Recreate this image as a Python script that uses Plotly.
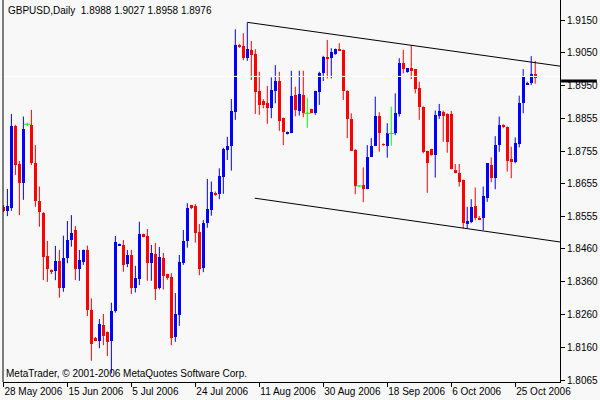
import plotly.graph_objects as go

# GBPUSD daily bars, 28 May 2006 .. 27 Oct 2006
opens = [1.8587, 1.8574, 1.8584, 1.8831, 1.8716, 1.8660, 1.8836, 1.8834, 1.8720, 1.8604,
         1.8569, 1.8439, 1.8397, 1.8394, 1.8424, 1.8342, 1.8432, 1.8487, 1.8517, 1.8400,
         1.8422, 1.8457, 1.8276, 1.8192, 1.8183, 1.8231, 1.8210, 1.8183, 1.8273, 1.8470,
         1.8472, 1.8414, 1.8442, 1.8342, 1.8369, 1.8504, 1.8499, 1.8419, 1.8445, 1.8342,
         1.8433, 1.8384, 1.8375, 1.8196, 1.8261, 1.8419, 1.8484, 1.8592, 1.8589, 1.8511,
         1.8403, 1.8539, 1.8577, 1.8629, 1.8627, 1.8678, 1.8758, 1.8770, 1.8874, 1.9075,
         1.9072, 1.9036, 1.9060, 1.9048, 1.8936, 1.8906, 1.8900, 1.8884, 1.8937, 1.8966,
         1.8855, 1.8806, 1.8810, 1.8924, 1.8877, 1.8924, 1.8869, 1.8882, 1.8871, 1.8934,
         1.8991, 1.9039, 1.9036, 1.9047, 1.9063, 1.9060, 1.8937, 1.8852, 1.8758, 1.8650,
         1.8653, 1.8641, 1.8738, 1.8771, 1.8862, 1.8776, 1.8771, 1.8808, 1.8810, 1.8867,
         1.9021, 1.8992, 1.9004, 1.9001, 1.8944, 1.8889, 1.8755, 1.8761, 1.8743, 1.8861,
         1.8874, 1.8868, 1.8868, 1.8698, 1.8690, 1.8668, 1.8536, 1.8541, 1.8589, 1.8554,
         1.8552, 1.8614, 1.8713, 1.8673, 1.8773, 1.8831, 1.8828, 1.8730, 1.8723, 1.8776,
         1.8899, 1.8954, 1.8959, 1.8988]
highs = [1.8592, 1.8641, 1.8867, 1.8834, 1.8725, 1.8859, 1.8840, 1.8879, 1.8773, 1.8648,
         1.8571, 1.8484, 1.8398, 1.8469, 1.8457, 1.8500, 1.8544, 1.8562, 1.8529, 1.8457,
         1.8458, 1.8470, 1.8311, 1.8195, 1.8249, 1.8264, 1.8211, 1.8298, 1.8499, 1.8476,
         1.8487, 1.8457, 1.8457, 1.8409, 1.8542, 1.8506, 1.8520, 1.8472, 1.8478, 1.8466,
         1.8448, 1.8385, 1.8387, 1.8327, 1.8442, 1.8517, 1.8598, 1.8593, 1.8595, 1.8535,
         1.8547, 1.8671, 1.8663, 1.8633, 1.8703, 1.8765, 1.8798, 1.8912, 1.9122, 1.9078,
         1.9110, 1.9142, 1.9087, 1.9062, 1.8994, 1.8911, 1.8951, 1.8977, 1.9014, 1.8994,
         1.8856, 1.8814, 1.8997, 1.8949, 1.8997, 1.8997, 1.8916, 1.8883, 1.8937, 1.8994,
         1.9042, 1.9090, 1.9065, 1.9064, 1.9080, 1.9061, 1.8938, 1.8869, 1.8761, 1.8652,
         1.8706, 1.8773, 1.8794, 1.8919, 1.8872, 1.8778, 1.8839, 1.8889, 1.8929, 1.9035,
         1.9060, 1.9005, 1.9075, 1.9002, 1.8964, 1.8890, 1.8756, 1.8762, 1.8877, 1.8897,
         1.8877, 1.8869, 1.8876, 1.8716, 1.8716, 1.8669, 1.8587, 1.8610, 1.8645, 1.8559,
         1.8648, 1.8719, 1.8736, 1.8800, 1.8859, 1.8836, 1.8829, 1.8768, 1.8796, 1.8922,
         1.9002, 1.8964, 1.9041, 1.9027]
lows = [1.8571, 1.8559, 1.8575, 1.8683, 1.8562, 1.8608, 1.8831, 1.8713, 1.8587, 1.8527,
        1.8366, 1.8361, 1.8384, 1.8366, 1.8313, 1.8331, 1.8417, 1.8467, 1.8366, 1.8364,
        1.8412, 1.8258, 1.8123, 1.8182, 1.8161, 1.8170, 1.8137, 1.8085, 1.8268, 1.8469,
        1.8391, 1.8405, 1.8324, 1.8329, 1.8351, 1.8495, 1.8364, 1.8364, 1.8306, 1.8338,
        1.8338, 1.8367, 1.8170, 1.8180, 1.8228, 1.8412, 1.8464, 1.8580, 1.8479, 1.8381,
        1.8390, 1.8524, 1.8560, 1.8620, 1.8610, 1.8626, 1.8728, 1.8696, 1.8849, 1.9066,
        1.9029, 1.9027, 1.8969, 1.8867, 1.8864, 1.8884, 1.8837, 1.8854, 1.8899, 1.8816,
        1.8773, 1.8805, 1.8809, 1.8860, 1.8862, 1.8857, 1.8825, 1.8869, 1.8864, 1.8894,
        1.8966, 1.8974, 1.8974, 1.9045, 1.9057, 1.8909, 1.8794, 1.8756, 1.8625, 1.8647,
        1.8601, 1.8640, 1.8737, 1.8770, 1.8753, 1.8771, 1.8735, 1.8771, 1.8803, 1.8859,
        1.8989, 1.8991, 1.8972, 1.8929, 1.8849, 1.8748, 1.8629, 1.8741, 1.8675, 1.8852,
        1.8783, 1.8750, 1.8700, 1.8688, 1.8648, 1.8522, 1.8522, 1.8538, 1.8547, 1.8548,
        1.8517, 1.8602, 1.8661, 1.8640, 1.8753, 1.8824, 1.8693, 1.8673, 1.8718, 1.8766,
        1.8869, 1.8954, 1.8954, 1.8958]
closes = [1.8575, 1.8589, 1.8831, 1.8713, 1.8660, 1.8821, 1.8836, 1.8720, 1.8604, 1.8572,
          1.8437, 1.8400, 1.8390, 1.8424, 1.8341, 1.8432, 1.8487, 1.8507, 1.8400, 1.8427,
          1.8457, 1.8276, 1.8173, 1.8184, 1.8234, 1.8198, 1.8180, 1.8273, 1.8481, 1.8474,
          1.8412, 1.8442, 1.8341, 1.8372, 1.8505, 1.8499, 1.8419, 1.8447, 1.8340, 1.8437,
          1.8379, 1.8372, 1.8193, 1.8264, 1.8421, 1.8484, 1.8583, 1.8586, 1.8509, 1.8401,
          1.8539, 1.8580, 1.8633, 1.8623, 1.8680, 1.8761, 1.8771, 1.8876, 1.9075, 1.9068,
          1.9036, 1.9062, 1.9045, 1.8934, 1.8894, 1.8894, 1.8886, 1.8939, 1.8966, 1.8846,
          1.8812, 1.8813, 1.8921, 1.8878, 1.8927, 1.8869, 1.8869, 1.8871, 1.8936, 1.8989,
          1.9038, 1.9033, 1.9054, 1.9063, 1.9059, 1.8937, 1.8851, 1.8756, 1.8651, 1.8650,
          1.8641, 1.8736, 1.8770, 1.8862, 1.8808, 1.8774, 1.8810, 1.8808, 1.8871, 1.9021,
          1.9001, 1.9004, 1.8996, 1.8941, 1.8887, 1.8753, 1.8720, 1.8743, 1.8864, 1.8876,
          1.8861, 1.8783, 1.8700, 1.8688, 1.8663, 1.8539, 1.8544, 1.8586, 1.8554, 1.8549,
          1.8620, 1.8718, 1.8673, 1.8773, 1.8834, 1.8828, 1.8725, 1.8723, 1.8778, 1.8901,
          1.8977, 1.8961, 1.8987, 1.8976]

x_tick_pos = [0, 16, 32, 48, 64, 80, 96, 112, 128]
x_tick_text = ["28 May 2006", "15 Jun 2006", "5 Jul 2006", "24 Jul 2006", "11 Aug 2006",
               "30 Aug 2006", "18 Sep 2006", "6 Oct 2006", "25 Oct 2006"]
y_tick_vals = [1.9150, 1.9051, 1.8953, 1.8854, 1.8755, 1.8657, 1.8558, 1.8460,
               1.8361, 1.8262, 1.8164, 1.8065]
y_tick_text = ["1.9150", "1.9050", "1.8950", "1.8855", "1.8755", "1.8655", "1.8555",
               "1.8460", "1.8360", "1.8260", "1.8160", "1.8065"]

# channel lines drawn on the chart
upper_line = [(61, 1.9143), (139.2, 1.9011)]
lower_line = [(62.85, 1.8613), (139.2, 1.8481)]
ask_price = 1.8980
price_marker = 1.8966

title_text = "GBPUSD,Daily  1.8988 1.9027 1.8958 1.8976"
copyright_text = "MetaTrader, © 2001-2006 MetaQuotes Software Corp."

BLUE = "#0000FF"
RED = "#FF0000"
GREEN = "#00FF00"
BG = "#F8F8F8"
FONT = dict(family="Liberation Sans, Arial, sans-serif", size=10, color="black")
Y_RANGE = [1.8059, 1.92103]

idx = list(range(len(opens)))

# wicks grouped by candle colour
wick = {BLUE: ([], []), RED: ([], []), GREEN: ([], [])}
for i, o, h, l, c in zip(idx, opens, highs, lows, closes):
    col = BLUE if c > o else (RED if c < o else GREEN)
    wick[col][0].extend([i, i, None])
    wick[col][1].extend([l, h, None])

fig = go.Figure()
for col, (wx, wy) in wick.items():
    fig.add_trace(go.Scatter(x=wx, y=wy, mode="lines", line=dict(color=col, width=1),
                             hoverinfo="skip", showlegend=False))

# bodies
body_x = [i for i, o, c in zip(idx, opens, closes) if o != c]
body_base = [min(o, c) for o, c in zip(opens, closes) if o != c]
body_len = [abs(c - o) for o, c in zip(opens, closes) if o != c]
body_col = [BLUE if c > o else RED for o, c in zip(opens, closes) if o != c]
fig.add_trace(go.Bar(x=body_x, y=body_len, base=body_base, width=0.75,
                     marker=dict(color=body_col, line=dict(width=0)),
                     hoverinfo="skip", showlegend=False))

# doji ticks
doji_x = [i for i, o, c in zip(idx, opens, closes) if o == c]
doji_y = [c for o, c in zip(opens, closes) if o == c]
fig.add_trace(go.Scatter(x=doji_x, y=doji_y, mode="markers",
                         marker=dict(symbol="line-ew", size=5, line=dict(color=GREEN, width=1)),
                         hoverinfo="skip", showlegend=False))

for (x0, y0), (x1, y1) in (upper_line, lower_line):
    fig.add_shape(type="line", xref="x", yref="y", x0=x0, y0=y0, x1=x1, y1=y1,
                  line=dict(color="black", width=1))

fig.add_shape(type="line", xref="paper", yref="y", x0=0, x1=1, y0=ask_price, y1=ask_price,
              line=dict(color="white", width=1), layer="above")
# price marker on the right scale (paper refs so it is not clipped to the plot)
marker_frac = (price_marker - Y_RANGE[0]) / (Y_RANGE[1] - Y_RANGE[0])
fig.add_shape(type="line", xref="paper", yref="paper", x0=1.002, x1=1.066,
              y0=marker_frac, y1=marker_frac, line=dict(color="black", width=3))
# left frame line
fig.add_shape(type="line", xref="paper", yref="paper", x0=0, x1=0, y0=0, y1=1,
              line=dict(color="black", width=1))

fig.add_annotation(text=title_text, xref="paper", yref="paper", x=0, y=1,
                   xanchor="left", yanchor="top", xshift=3, yshift=-3,
                   showarrow=False, font=FONT)
fig.add_annotation(text=copyright_text, xref="paper", yref="paper", x=0, y=0,
                   xanchor="left", yanchor="bottom", xshift=1, yshift=1,
                   showarrow=False, font=FONT)

fig.update_xaxes(range=[-0.1, 139.2], tickvals=x_tick_pos, ticktext=x_tick_text,
                 ticks="outside", ticklen=4, tickcolor="black", showgrid=False,
                 zeroline=False, showline=True, linecolor="black", linewidth=1,
                 ticklabelposition="outside right", tickangle=0, automargin=False,
                 tickfont=FONT)
fig.update_yaxes(range=Y_RANGE, side="right", tickvals=y_tick_vals,
                 ticktext=y_tick_text, ticks="outside", ticklen=4, tickcolor="black",
                 showgrid=False, zeroline=False, showline=True, linecolor="black",
                 linewidth=1, automargin=False, tickfont=FONT)

fig.update_layout(width=600, height=400, margin=dict(l=3, r=40, t=0, b=18),
                  paper_bgcolor=BG, plot_bgcolor=BG, bargap=0, hovermode=False)

# page body margin off so the figure sits at the window's top-left corner
fig.write_html("out.html", config={"displayModeBar": False},
               post_script="document.body.style.margin='0';")
